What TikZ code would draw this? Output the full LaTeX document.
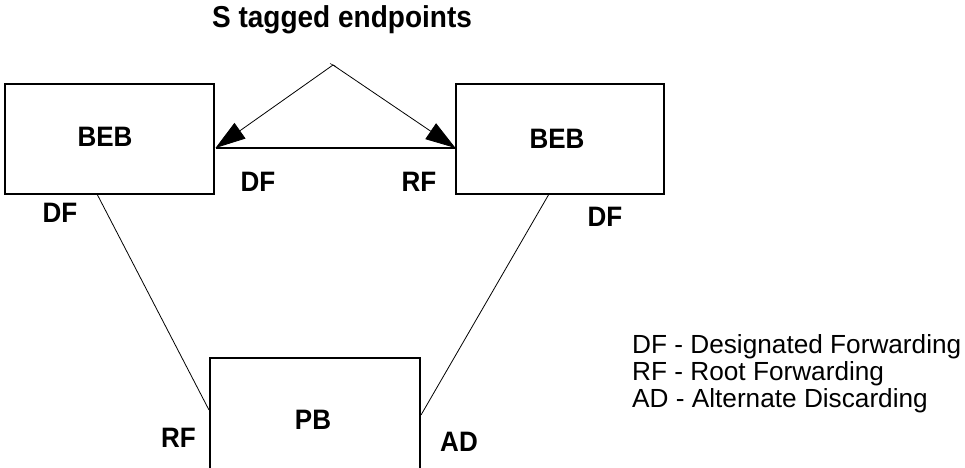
\documentclass[tikz,border=0pt]{standalone}
\usepackage{fontspec}
\setmainfont{Liberation Sans}
\usetikzlibrary{arrows.meta,calc}
\begin{document}
\begin{tikzpicture}[x=1pt,y=-1pt,
  boxnode/.style={draw,line width=1.8pt,inner sep=0pt},
  lbl/.style={font=\fontsize{26}{26}\selectfont\bfseries,inner sep=0pt,yscale=1.08},
  legend/.style={font=\fontsize{26.2}{27}\selectfont,inner sep=0pt,align=left,anchor=north west},
  thin line/.style={line width=0.8pt},
  tagarrow/.style={line width=0.8pt,-{Triangle[length=30pt,width=19pt]}}]
\clip (0,0) rectangle (965,467);
\useasboundingbox (0,0) rectangle (965,467);
\fill[white] (0,0) rectangle (965,467);
% boxes
\node[boxnode,minimum width=209pt,minimum height=110pt] (bebL) at (109.5,139) {};
\node[boxnode,minimum width=208pt,minimum height=110pt] (bebR) at (560,139) {};
\node[boxnode,minimum width=210pt,minimum height=124pt] (pb) at (315,420) {};
\node[lbl] (tbebL) at (105,137) {BEB};
\node[lbl] (tbebR) at (557,138.5) {BEB};
\node[lbl] (tpb) at (313,420) {PB};
% title
\node[lbl,font=\fontsize{28}{28}\selectfont\bfseries] (title) at (342,20) {S tagged endpoints};
% connectors
\coordinate (apex) at (333,65);
\coordinate (cL) at (215.5,148);
\coordinate (cR) at (455.5,148);
\draw[line width=1.8pt] (cL) -- (cR);
\draw[tagarrow] (apex) -- (cL);
\draw[tagarrow] (apex) -- (cR);
\draw[line width=0.6pt] ($(apex)+(-3,-1.5)$) -- ($(apex)+(3,1.5)$);
\coordinate (lTop) at (97,194);
\coordinate (lBot) at (209,410);
\coordinate (rTop) at (549,194);
\coordinate (rBot) at (421,415);
\draw[thin line] (lTop) -- (lBot);
\draw[thin line] (rTop) -- (rBot);
% port labels
\node[lbl] (dfL) at (60,213) {DF};
\node[lbl] (dfM) at (258,182) {DF};
\node[lbl] (rfM) at (419,182) {RF};
\node[lbl] (dfR) at (605,217) {DF};
\node[lbl] (rfP) at (178.5,437.5) {RF};
\node[lbl] (adP) at (459,442) {AD};
% legend
\node[legend] (leg) at (632,334) {DF - Designated Forwarding\\RF - Root Forwarding\\AD - Alternate Discarding};
\end{tikzpicture}
\end{document}
